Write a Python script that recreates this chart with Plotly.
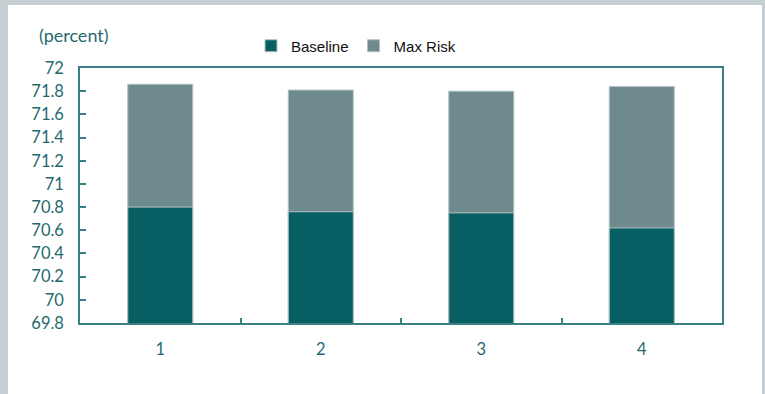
import plotly.graph_objects as go

# Scenario life-expectancy levels (percent) per period
categories = ["1", "2", "3", "4"]
baseline = [70.80, 70.76, 70.75, 70.62]
max_risk = [71.86, 71.81, 71.80, 71.84]

TEAL_DARK = "#075e63"
TEAL_GREY = "#6e8a8e"
AXIS = "#3b8085"
LABEL = "#1f6a6e"
FONT = "Lato"

W, H = 765, 394
L, R, T, B = 80, 43, 68, 71
pw, ph = W - L - R, H - T - B


def px_x(x):
    return (x - L) / pw


def px_y(y):
    return (H - B - y) / ph


fig = go.Figure()
fig.add_trace(go.Bar(
    x=categories, y=max_risk, name="Max Risk", legendrank=2,
    marker=dict(color=TEAL_GREY, line=dict(color="#b3c2c4", width=1)),
    width=0.405,
))
fig.add_trace(go.Bar(
    x=categories, y=baseline, name="Baseline", legendrank=1,
    marker=dict(color=TEAL_DARK, line=dict(color="#b3c2c4", width=1)),
    width=0.405,
))

fig.update_layout(
    width=W, height=H,
    margin=dict(l=L, r=R, t=T, b=B),
    paper_bgcolor="#c5ced1",
    plot_bgcolor="white",
    barmode="overlay",
    showlegend=True,
    legend=dict(
        orientation="h", x=px_x(251), y=px_y(46), xanchor="left", yanchor="middle",
        font=dict(family="Liberation Sans", size=15, color="#111111"),
        bgcolor="rgba(0,0,0,0)", itemwidth=30, tracegroupgap=0,
    ),
    font=dict(family=FONT, color=LABEL),
    shapes=[dict(
        type="rect", xref="paper", yref="paper", layer="below",
        x0=px_x(8), x1=px_x(762), y0=px_y(400), y1=px_y(5),
        fillcolor="white", line=dict(width=0),
    )],
    annotations=[dict(
        text="(percent)", xref="paper", yref="paper",
        x=px_x(37), y=px_y(35), xanchor="left", yanchor="middle",
        showarrow=False, font=dict(family=FONT, size=18, color=LABEL),
    )],
)

fig.update_yaxes(
    range=[69.8, 72], dtick=0.2, tick0=69.8,
    tickformat="~r",
    ticks="inside", ticklen=6, tickwidth=1.5, tickcolor=AXIS,
    showline=True, linecolor=AXIS, linewidth=1.5, mirror=True,
    showgrid=False, zeroline=False,
    tickfont=dict(family=FONT, size=16.5, color=LABEL),
    ticklabelstandoff=11,
)
fig.update_xaxes(
    tickson="boundaries", ticks="inside", ticklen=5, tickwidth=1.5, tickcolor=AXIS,
    showline=True, linecolor=AXIS, linewidth=2, mirror=True,
    showgrid=False,
    tickfont=dict(family=FONT, size=16.5, color=LABEL),
    ticklabelstandoff=10,
)

fig.write_html("out.html")
